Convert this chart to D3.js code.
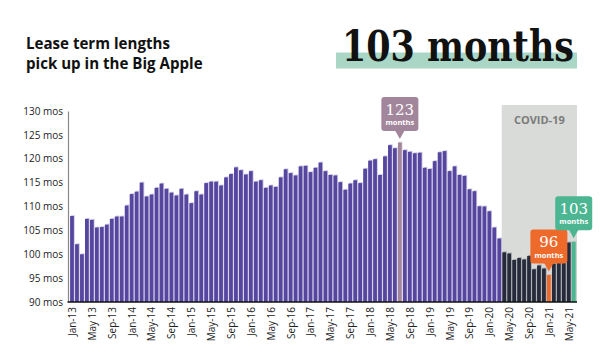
<!DOCTYPE html>
<html><head><meta charset="utf-8">
<script src="https://cdn.jsdelivr.net/npm/d3@7"></script>
<style>body{margin:0;background:#fff}svg{display:block}</style>
</head><body>
<svg id="c" width="600" height="360"></svg>
<script>
const categories = [
 "Jan-13","Feb-13","Mar-13","Apr-13","May-13","Jun-13","Jul-13","Aug-13","Sep-13","Oct-13","Nov-13","Dec-13",
 "Jan-14","Feb-14","Mar-14","Apr-14","May-14","Jun-14","Jul-14","Aug-14","Sep-14","Oct-14","Nov-14","Dec-14",
 "Jan-15","Feb-15","Mar-15","Apr-15","May-15","Jun-15","Jul-15","Aug-15","Sep-15","Oct-15","Nov-15","Dec-15",
 "Jan-16","Feb-16","Mar-16","Apr-16","May-16","Jun-16","Jul-16","Aug-16","Sep-16","Oct-16","Nov-16","Dec-16",
 "Jan-17","Feb-17","Mar-17","Apr-17","May-17","Jun-17","Jul-17","Aug-17","Sep-17","Oct-17","Nov-17","Dec-17",
 "Jan-18","Feb-18","Mar-18","Apr-18","May-18","Jun-18","Jul-18","Aug-18","Sep-18","Oct-18","Nov-18","Dec-18",
 "Jan-19","Feb-19","Mar-19","Apr-19","May-19","Jun-19","Jul-19","Aug-19","Sep-19","Oct-19","Nov-19","Dec-19",
 "Jan-20","Feb-20","Mar-20","Apr-20","May-20","Jun-20","Jul-20","Aug-20","Sep-20","Oct-20","Nov-20","Dec-20",
 "Jan-21","Feb-21","Mar-21","Apr-21","May-21","Jun-21"];
const leaseMonths = [
 108.0,102.1,100.0,107.4,107.2,105.6,105.7,106.2,107.4,107.9,107.9,110.2,
 112.6,113.1,115.0,112.1,112.5,113.9,114.8,113.7,112.9,112.3,113.7,112.5,
 110.7,113.2,112.5,114.9,115.2,115.2,114.4,116.1,116.8,118.2,117.6,116.7,
 117.4,115.2,115.5,113.9,114.4,114.1,116.1,117.8,117.0,116.5,118.4,118.5,
 117.2,118.1,119.2,117.4,116.6,116.5,115.1,113.5,114.8,115.5,114.9,117.9,
 119.6,119.9,116.6,120.5,122.85,122.2,123.4,121.8,121.45,121.15,121.25,118.1,
 117.85,119.5,121.35,121.6,117.4,118.4,116.6,116.4,113.6,113.2,110.05,110.0,
 109.0,105.6,103.3,100.4,100.15,98.8,99.2,98.9,99.65,96.85,97.65,97.0,
 95.65,98.0,98.15,98.35,102.45,102.6];
const tickCategories = ["Jan-13","May-13","Sep-13","Jan-14","May-14","Sep-14","Jan-15","May-15","Sep-15",
 "Jan-16","May-16","Sep-16","Jan-17","May-17","Sep-17","Jan-18","May-18","Sep-18","Jan-19","May-19","Sep-19",
 "Jan-20","May-20","Sep-20","Jan-21","May-21"];
const tickLabels = ["Jan-13","May 13","Sep-13","Jan-14","May-14","Sep-14","Jan-15","May-15","Sep-15",
 "Jan-16","May 16","Sep-16","Jan-17","May-17","Sep-17","Jan-18","May-18","Sep-18","Jan-19","May 19","Sep-19",
 "Jan-20","May-20","Sep-20","Jan-21","May-21"];
const yTicks = [90,95,100,105,110,115,120,125,130];
const covidStart = "Apr-20";
const covidLabel = "COVID-19";
const calloutCats = ["Jul-18","Jan-21","Jun-21"];
const calloutValues = ["123","96","103"];
const headline = "103 months";
const titleLines = ["Lease term lengths","pick up in the Big Apple"];

const svg = d3.select("#c");
const x = d3.scaleBand().domain(categories).range([69.5,576.2]).paddingInner(0.24).paddingOuter(0.12);
const y = d3.scaleLinear().domain([90,130]).range([302,111]);

const calloutColors = {"Jul-18":"#a2869b","Jan-21":"#ee6a2b","Jun-21":"#4cb591"};
const purple = "#5646a0", dark = "#262b3c";
const covidIdx = categories.indexOf(covidStart);

// title
svg.append("g").selectAll("text").data(titleLines).join("text")
  .attr("x",26).attr("y",(d,i)=>48.5+i*20.6)
  .attr("font-family","'Open Sans'").attr("font-weight",700).attr("font-size",15.1).attr("fill","#111")
  .text(d=>d);

// headline
svg.append("rect").attr("x",336).attr("y",52.5).attr("width",241).attr("height",16).attr("fill","#a9d6c5");
const hl = svg.append("text")
  .attr("font-family","'DejaVu Serif'").attr("font-weight",700).attr("font-size",42).attr("fill","#111")
  .text(headline);
const hw = hl.node().getComputedTextLength();
hl.attr("transform",`translate(342,61) scale(${232/hw},1)`);

// covid shading
const band = x.step();
const covidX0 = x(covidStart) - x.paddingInner()*band/2;
svg.append("rect").attr("x",covidX0).attr("y",105).attr("width",577-covidX0).attr("height",302-105).attr("fill","#d9dbd8");
svg.append("text").attr("x",(covidX0+577)/2).attr("y",124).attr("text-anchor","middle")
  .attr("font-family","'Open Sans'").attr("font-weight",700).attr("font-size",11).attr("fill","#7a7a7a").text(covidLabel);

const data = categories.map((c,i)=>({c, v:leaseMonths[i], i}));
const colorOf = d => calloutColors[d.c] || (d.i>=covidIdx ? dark : purple);

// bar edge (light highlight top/right)
svg.append("g").selectAll("rect").data(data).join("rect")
  .attr("x",d=>x(d.c)+0.9).attr("y",d=>y(d.v)-0.9).attr("width",x.bandwidth())
  .attr("height",d=>y(90)-y(d.v)+0.9).attr("fill",d=>colorOf(d)).attr("opacity",0.3);
svg.append("g").selectAll("rect").data(data).join("rect")
  .attr("x",d=>x(d.c)).attr("y",d=>y(d.v)).attr("width",x.bandwidth())
  .attr("height",d=>y(90)-y(d.v)).attr("fill",colorOf);

// y axis
const yAxis = svg.append("g").attr("transform","translate(68,0)")
  .call(d3.axisLeft(y).tickValues(yTicks).tickSize(0).tickPadding(5).tickFormat(d=>d+" mos"));
yAxis.select(".domain").attr("stroke","#888").attr("stroke-width",1.2);
yAxis.selectAll("text").attr("font-family","'Open Sans'").attr("font-size",10).attr("fill","#222");

// x axis
const xAxis = svg.append("g").attr("transform","translate(0,302)")
  .call(d3.axisBottom(x).tickValues(tickCategories).tickSize(0).tickFormat((d,i)=>tickLabels[i]));
xAxis.select(".domain").attr("d","M67.5,0H577").attr("stroke","#111").attr("stroke-width",1.6);
xAxis.selectAll("text").attr("font-family","'Open Sans'").attr("font-size",10).attr("fill","#222")
  .attr("transform","rotate(-90)").attr("text-anchor","end").attr("x",-5).attr("y",0).attr("dy","0.4em").attr("dx",0);

// callouts
const cg = svg.append("g");
calloutCats.forEach((c,k)=>{
  const v = leaseMonths[categories.indexOf(c)];
  const cx = x(c)+x.bandwidth()/2;
  const tipY = y(v)-3.5;
  const col = calloutColors[c];
  let bx = cx-18.5;
  if (bx+37>593) bx = 593-37;
  const by = tipY-8-34;
  const g = cg.append("g");
  g.append("rect").attr("x",bx).attr("y",by).attr("width",37).attr("height",34).attr("rx",3).attr("fill",col);
  g.append("path").attr("d",`M${cx-5},${by+33}L${cx+5},${by+33}L${cx},${tipY}Z`).attr("fill",col);
  g.append("text").attr("x",bx+18.5).attr("y",by+17.5).attr("text-anchor","middle")
    .attr("font-family","'DejaVu Serif'").attr("font-size",15).attr("fill","#fff").text(calloutValues[k]);
  g.append("text").attr("x",bx+18.5).attr("y",by+28).attr("text-anchor","middle")
    .attr("font-family","'Open Sans'").attr("font-weight",700).attr("font-size",7.5).attr("fill","#fff").text("months");
});
</script>
</body></html>
